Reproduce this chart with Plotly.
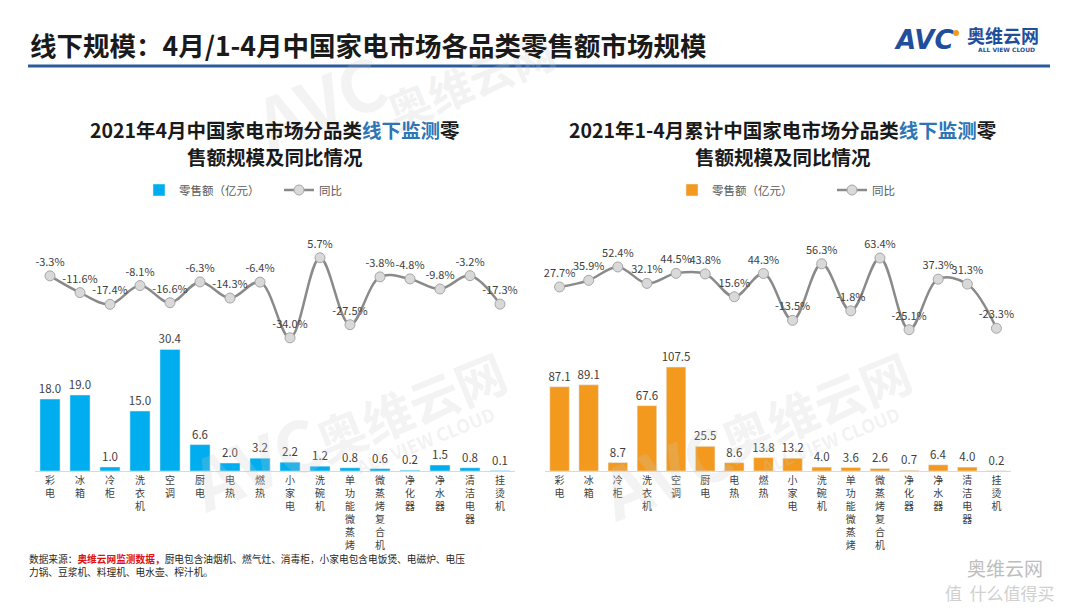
import plotly.graph_objects as go

cats = ['彩电', '冰箱', '冷柜', '洗衣机', '空调', '厨电', '电热', '燃热', '小家电', '洗碗机',
        '单功能微蒸烤', '微蒸烤复合机', '净化器', '净水器', '清洁电器', '挂烫机']
apr_sales = [18.0, 19.0, 1.0, 15.0, 30.4, 6.6, 2.0, 3.2, 2.2, 1.2, 0.8, 0.6, 0.2, 1.5, 0.8, 0.1]
apr_yoy = [-3.3, -11.6, -17.4, -8.1, -16.6, -6.3, -14.3, -6.4, -34.0, 5.7, -27.5, -3.8, -4.8, -9.8, -3.2, -17.3]
ytd_sales = [87.1, 89.1, 8.7, 67.6, 107.5, 25.5, 8.6, 13.8, 13.2, 4.0, 3.6, 2.6, 0.7, 6.4, 4.0, 0.2]
ytd_yoy = [27.7, 35.9, 52.4, 32.1, 44.5, 43.8, 15.6, 44.3, -13.5, 56.3, -1.8, 63.4, -25.1, 37.3, 31.3, -23.3]

FONT = 'Noto Sans CJK SC'
W, H = 1080, 608
OFF = 8  # page body margin
vert = ['<br>'.join(c) for c in cats]

def px(x):
    return (x - OFF) / W

def py(y):
    return 1 - (y - OFF) / H

ydom = [py(471), py(245)]

fig = go.Figure()

bar_kw = dict(texttemplate='%{y:.1f}', textposition='outside', constraintext='none',
              textfont=dict(size=11.5, color='#404040'), cliponaxis=False)
line_kw = dict(mode='lines+markers+text', line=dict(color='#8a8a8a', width=2.5, shape='spline'),
               marker=dict(size=10, color='#d9d9d9', line=dict(color='#a6a6a6', width=1)),
               texttemplate='%{y:.1f}%', textposition='top center',
               textfont=dict(size=11, color='#404040'), cliponaxis=False)

fig.add_trace(go.Bar(x=cats, y=apr_sales, name='零售额（亿元）', marker_color='#00aeef',
                     xaxis='x', yaxis='y', legend='legend', **bar_kw))
fig.add_trace(go.Scatter(x=cats, y=apr_yoy, name='同比', xaxis='x', yaxis='y2', legend='legend', **line_kw))
fig.add_trace(go.Bar(x=cats, y=ytd_sales, name='零售额（亿元）', marker_color='#f39a1e',
                     xaxis='x2', yaxis='y3', legend='legend2', **bar_kw))
fig.add_trace(go.Scatter(x=cats, y=ytd_yoy, name='同比', xaxis='x2', yaxis='y4', legend='legend2', **line_kw))

xcommon = dict(type='category', tickvals=cats, ticktext=vert, range=[-0.5, 15.5], showline=True,
               linecolor='#d9d9d9', linewidth=1, ticks='', showgrid=False,
               tickfont=dict(size=10, color='#404040'), fixedrange=True)
ycommon = dict(visible=False, showgrid=False, zeroline=False, fixedrange=True)


def note(x, y, text, size, color, family=FONT, xa='center', ya='middle', **kw):
    return dict(x=px(x), y=py(y), xref='paper', yref='paper', xanchor=xa, yanchor=ya,
                text=text, showarrow=False, font=dict(size=size, color=color, family=family), **kw)


anns = []
# faint watermarks
wm = 'rgba(200,200,200,0.22)'
for (x, y, t, s) in [(320, 100, 'AVC', 70), (470, 80, '奥维云网', 44),
                     (255, 460, 'AVC', 70), (410, 405, '奥维云网', 50), (425, 440, 'ALL VIEW CLOUD', 18),
                     (665, 470, 'AVC', 70), (815, 405, '奥维云网', 50), (830, 440, 'ALL VIEW CLOUD', 18)]:
    anns.append(note(x, y, '<b>' + t + '</b>', s, wm, textangle=-22))

hl = "<span style='color:#2e75b6'>线下监测</span>"
anns += [
    note(28, 45, '<b>线下规模：4月/1-4月中国家电市场各品类零售额市场规模</b>', 26.5, '#1a1a1a', xa='left'),
    note(275, 129, '<b>2021年4月中国家电市场分品类' + hl + '零</b>', 19.5, '#1a1a1a'),
    note(275, 157, '<b>售额规模及同比情况</b>', 19.5, '#1a1a1a'),
    note(783, 129, '<b>2021年1-4月累计中国家电市场分品类' + hl + '零</b>', 19.5, '#1a1a1a'),
    note(783, 157, '<b>售额规模及同比情况</b>', 19.5, '#1a1a1a'),
    note(27, 565, "数据来源：<b><span style='color:#e01010'>奥维云网监测数据，</span></b>厨电包含油烟机、燃气灶、消毒柜，小家电包含电饭煲、电磁炉、电压<br>力锅、豆浆机、料理机、电水壶、榨汁机。",
         9.7, '#262626', xa='left', align='left'),
    # logo
    note(924, 40, '<b><i>AVC</i></b>', 26, '#1f4e9a', family='DejaVu Sans'),
    note(1003, 35, '<b>奥维云网</b>', 18, '#1f4e9a'),
    note(1006, 50, '<b>ALL VIEW CLOUD</b>', 6, '#1f4e9a', family='DejaVu Sans'),
    # corner watermark
    note(1005, 567, '奥维云网', 19, '#bdbdbd'),
    note(1000, 592, '值  什么值得买', 17, '#d0d0d0'),
]

shapes = [
    dict(type='line', xref='paper', yref='paper', x0=px(28), x1=px(1050), y0=py(66), y1=py(66),
         line=dict(color='#2a5c9c', width=3)),
    dict(type='circle', xref='paper', yref='paper', x0=px(953), x1=px(959), y0=py(36), y1=py(30),
         fillcolor='#f39a1e', line=dict(width=0)),
]

fig.update_layout(
    width=W, height=H, margin=dict(l=0, r=0, t=0, b=0),
    paper_bgcolor='white', plot_bgcolor='white',
    font=dict(family=FONT, color='#404040'),
    bargap=0.33,
    xaxis=dict(domain=[px(35), px(515)], anchor='y', **xcommon),
    yaxis=dict(domain=ydom, anchor='x', range=[0, 56.5], **ycommon),
    yaxis2=dict(overlaying='y', anchor='x', range=[-100, 12], **ycommon),
    xaxis2=dict(domain=[px(545), px(1011)], anchor='y3', **xcommon),
    yaxis3=dict(domain=ydom, anchor='x2', range=[0, 233.7], **ycommon),
    yaxis4=dict(overlaying='y3', anchor='x2', range=[-199.5, 79.5], **ycommon),
    legend=dict(orientation='h', x=px(139), y=py(190), xanchor='left', yanchor='middle',
                font=dict(size=11.5, color='#595959'), bgcolor='rgba(0,0,0,0)',
                entrywidth=95, entrywidthmode='pixels'),
    legend2=dict(orientation='h', x=px(672), y=py(190), xanchor='left', yanchor='middle',
                 font=dict(size=11.5, color='#595959'), bgcolor='rgba(0,0,0,0)',
                 entrywidth=115, entrywidthmode='pixels'),
    annotations=anns, shapes=shapes, showlegend=True,
)

fig.write_html('out.html')
